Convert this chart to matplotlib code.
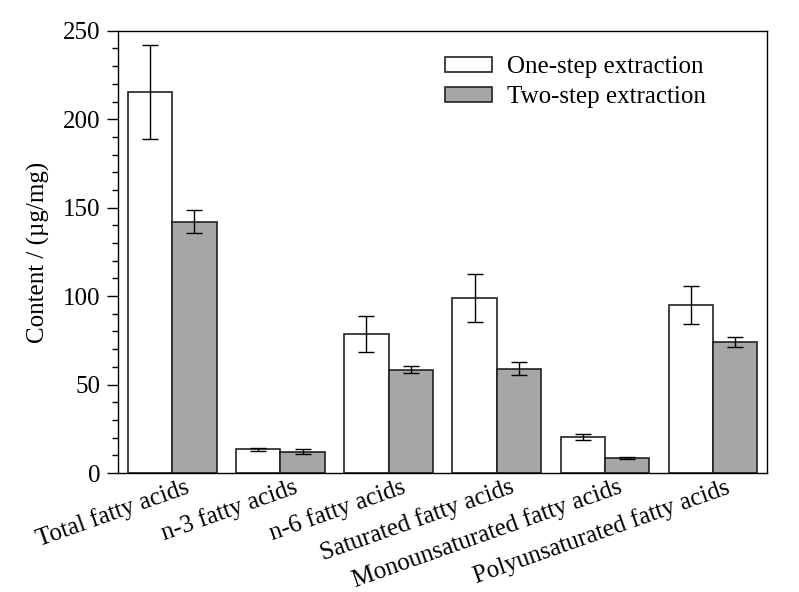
import matplotlib
matplotlib.use('Agg')
import matplotlib.pyplot as plt
import matplotlib.ticker as ticker
import matplotlib.transforms as mtransforms
import numpy as np

#------------------------------------------------------------------------------
# DATA
categories = ['Total fatty acids', 'n-3 fatty acids', 'n-6 fatty acids',
              'Saturated fatty acids', 'Monounsaturated fatty acids',
              'Polyunsaturated fatty acids']
one_step = [215.5, 13.5, 78.5, 99.0, 20.5, 95.0]
one_step_err = [26.5, 0.8, 10.0, 13.5, 1.8, 11.0]
two_step = [142.0, 12.0, 58.5, 59.0, 8.5, 74.0]
two_step_err = [6.5, 1.5, 2.0, 3.5, 0.5, 3.0]

#------------------------------------------------------------------------------
# PLOT
plt.rcParams['font.family'] = ['Liberation Serif', 'DejaVu Serif']

fig = plt.figure(figsize=(7.99, 5.92), dpi=100)
ax = fig.add_axes([0.148, 0.201, 0.812, 0.747])

x = np.arange(1, len(categories) + 1)
w = 0.41

ax.bar(x - w/2, one_step, w, yerr=one_step_err, color='white', edgecolor='#222222',
       linewidth=1.2, capsize=6, error_kw=dict(elinewidth=1.0, capthick=1.0, ecolor='black'),
       label='One-step extraction')
ax.bar(x + w/2, two_step, w, yerr=two_step_err, color='#a6a6a6', edgecolor='#222222',
       linewidth=1.2, capsize=6, error_kw=dict(elinewidth=1.0, capthick=1.0, ecolor='black'),
       label='Two-step extraction')

ax.set_xlim(0.5, 6.5)
ax.set_ylim(0, 250)
ax.set_xticks(x)
ax.set_xticklabels(categories, rotation=19.5, ha='right', fontsize=18)
ax.tick_params(axis='x', length=0, pad=2)

# shift the rotated labels to the right, as in the original
offset = mtransforms.ScaledTranslation(0.20, 0, fig.dpi_scale_trans)
for lab in ax.get_xticklabels():
    lab.set_transform(lab.get_transform() + offset)

ax.yaxis.set_major_locator(ticker.MultipleLocator(50))
ax.yaxis.set_minor_locator(ticker.MultipleLocator(10))
ax.tick_params(axis='y', which='major', length=8, width=1, labelsize=18, direction='out', pad=5)
ax.tick_params(axis='y', which='minor', length=4.5, width=1, direction='out')

ax.set_ylabel('Content / (µg/mg)', fontsize=18, labelpad=9)

for sp in ax.spines.values():
    sp.set_linewidth(1.0)

ax.legend(loc='upper right', frameon=False, fontsize=18, handlelength=1.9,
          handleheight=0.55, handletextpad=0.6, labelspacing=0.3,
          bbox_to_anchor=(0.941, 0.993))

fig.savefig('out.png', dpi=100)
